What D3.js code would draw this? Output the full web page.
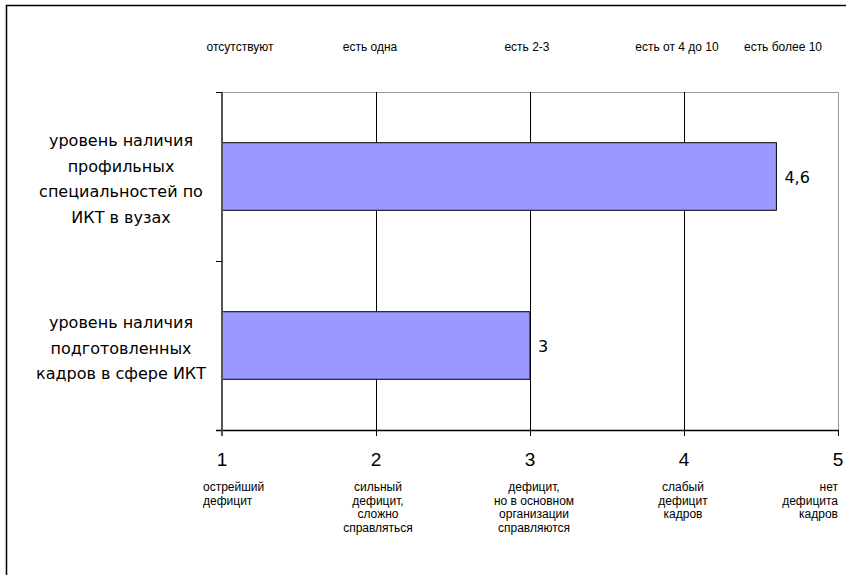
<!DOCTYPE html>
<html><head><meta charset="utf-8">
<script src="https://cdn.jsdelivr.net/npm/d3@7"></script>
<style>body{margin:0;background:#fff}svg{display:block}</style>
</head><body>
<svg id="c" width="846" height="575"></svg>
<script>
const categories = [
  ["уровень наличия","профильных","специальностей по","ИКТ в вузах"],
  ["уровень наличия","подготовленных","кадров в сфере ИКТ"]
];
const values = [4.6, 3];
const valueLabels = ["4,6", "3"];
const xTicks = [1, 2, 3, 4, 5];
const topLabels = ["отсутствуют","есть одна","есть 2-3","есть от 4 до 10","есть более 10"];
const bottomLabels = [
  ["острейший","дефицит"],
  ["сильный","дефицит,","сложно","справляться"],
  ["дефицит,","но в основном","организации","справляются"],
  ["слабый","дефицит","кадров"],
  ["нет","дефицита","кадров"]
];

const svg = d3.select("#c");
const L = 222, R = 838, T = 92, B = 430;
const x = d3.scaleLinear().domain([1,5]).range([L,R]);
const y = d3.scaleBand().domain(d3.range(categories.length)).range([T,B]).paddingInner(0.6).paddingOuter(0.3);
const smallFont = "Liberation Sans Narrow, Arial Narrow, Liberation Sans, Arial, sans-serif";

// outer frame
svg.append("path").attr("d","M6.5,575 V5.5 H846").attr("fill","none").attr("stroke","#000").attr("stroke-width",1.5);

// plot border (gray)
svg.append("path").attr("d",`M${L},${T+0.5} H${R+0.5} V${B}`).attr("fill","none").attr("stroke","#999").attr("stroke-width",1);

// gridlines
svg.append("g").selectAll("line").data(xTicks.slice(1,-1)).join("line")
  .attr("x1",d=>Math.round(x(d))+0.5).attr("x2",d=>Math.round(x(d))+0.5)
  .attr("y1",T).attr("y2",B).attr("stroke","#000").attr("stroke-width",1);

// bars
svg.append("g").selectAll("rect").data(values).join("rect")
  .attr("x",x(1)).attr("y",(d,i)=>y(i)).attr("width",d=>x(d)-x(1)).attr("height",y.bandwidth())
  .attr("fill","#9999ff").attr("stroke","#000").attr("stroke-width",1);

// value labels
svg.append("g").selectAll("text").data(values).join("text")
  .attr("x",d=>x(d)+8).attr("y",(d,i)=>y(i)+y.bandwidth()/2+6)
  .attr("font-family","DejaVu Sans, Verdana, sans-serif").attr("font-size",16).attr("fill","#000")
  .text((d,i)=>valueLabels[i]);

// x axis
const xAxis = d3.axisBottom(x).tickValues(xTicks).tickSize(6).tickFormat("");
const gx = svg.append("g").attr("transform",`translate(0,${B})`).call(xAxis);
gx.select(".domain").attr("stroke","#000").attr("stroke-width",1.5).attr("d",`M${L-6},0.5H${R}`);
gx.selectAll(".tick line").attr("stroke","#000");

// y axis
const yAxis = d3.axisLeft(d3.scaleLinear().domain([0,2]).range([B,T])).ticks(2).tickSize(6).tickFormat("");
const gy = svg.append("g").attr("transform",`translate(${L},0)`).call(yAxis);
gy.select(".domain").attr("stroke","#555").attr("stroke-width",2).attr("d",`M0,${T}V${B+6}`);
gy.selectAll(".tick line").attr("stroke","#000");

// tick numbers
svg.append("g").selectAll("text").data(xTicks).join("text")
  .attr("x",d=>x(d)).attr("y",466).attr("text-anchor","middle")
  .attr("font-family",smallFont).attr("font-size",19)
  .text(d=>d);

// top labels
const topX = [240, 370, 527, 677, 783];
svg.append("g").selectAll("text").data(topLabels).join("text")
  .attr("x",(d,i)=>topX[i]).attr("y",51).attr("text-anchor","middle")
  .attr("font-family",smallFont).attr("font-size",12)
  .text(d=>d);

// bottom labels
const botX = [203, 378, 534, 683, 838];
const botAnchor = ["start","middle","middle","middle","end"];
const bg = svg.append("g").attr("font-family",smallFont).attr("font-size",12);
bottomLabels.forEach((lines,i)=>{
  const t = bg.append("text").attr("text-anchor",botAnchor[i]);
  lines.forEach((ln,j)=>t.append("tspan").attr("x",botX[i]).attr("y",491+j*13.5).text(ln));
});

// category labels
const cg = svg.append("g").attr("font-family","DejaVu Sans, Verdana, sans-serif").attr("font-size",16).attr("text-anchor","middle");
categories.forEach((lines,i)=>{
  const cy = y(i)+y.bandwidth()/2;
  const t = cg.append("text");
  const h = 25.7;
  lines.forEach((ln,j)=>t.append("tspan").attr("x",121).attr("y",cy - (lines.length-1)*h/2 + j*h + 8).text(ln));
});
</script>
</body></html>
